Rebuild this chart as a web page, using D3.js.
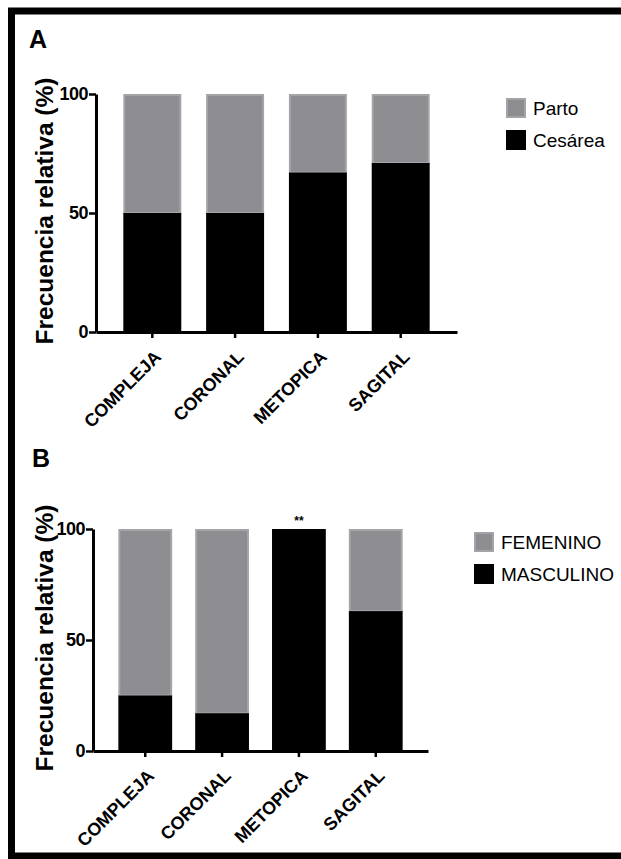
<!DOCTYPE html>
<html>
<head>
<meta charset="utf-8">
<script src="https://cdn.jsdelivr.net/npm/d3@7"></script>
<style>
  body { margin: 0; background: #fff; }
  svg { display: block; font-family: "Liberation Sans", Arial, sans-serif; }
</style>
</head>
<body>
<div id="chart"></div>
<script>
// data
const categories = ["COMPLEJA", "CORONAL", "METOPICA", "SAGITAL"];
const yTicks = [0, 50, 100];

// panel A: tipo de parto
const cesarea = [50, 50, 67, 71];
const parto = [50, 50, 33, 29];

// panel B: sexo
const masculino = [25, 17, 100, 63];
const femenino = [75, 83, 0, 37];

const width = 621, height = 859;
const gray = "#8e8d92", grayEdge = "#a4a3a7";

const svg = d3.select("#chart").append("svg")
    .attr("width", width)
    .attr("height", height);

svg.append("rect").attr("width", width).attr("height", height).attr("fill", "#fff");

// frame (open on the right side, like the source image)
svg.append("rect")
    .attr("x", 11.5).attr("y", 11)
    .attr("width", 700).attr("height", 845)
    .attr("fill", "none").attr("stroke", "#000").attr("stroke-width", 7);

function drawPanel(opts) {
    const { letter, letterPos, xRange, yRange, bottom, top, bottomName, topName, legendX, legendY, star } = opts;

    const g = svg.append("g");

    const x = d3.scaleBand().domain(categories).range(xRange)
        .paddingInner(0.3).paddingOuter(0.33);
    const y = d3.scaleLinear().domain([0, 100]).range(yRange);

    const rows = categories.map((c, i) => ({ cat: c, bottom: bottom[i], top: top[i] }));
    const stacked = d3.stack().keys(["bottom", "top"])(rows);

    // grey (upper) segments
    g.selectAll(".top")
        .data(stacked[1].filter(d => d[1] > d[0]))
        .join("rect")
        .attr("class", "top")
        .attr("x", d => x(d.data.cat) + 1)
        .attr("y", d => y(d[1]) + 1)
        .attr("width", x.bandwidth() - 2)
        .attr("height", d => y(d[0]) - y(d[1]) - 1)
        .attr("fill", gray)
        .attr("stroke", grayEdge)
        .attr("stroke-width", 2);

    // black (lower) segments
    g.selectAll(".bottom")
        .data(stacked[0])
        .join("rect")
        .attr("class", "bottom")
        .attr("x", d => x(d.data.cat))
        .attr("y", d => y(d[1]))
        .attr("width", x.bandwidth())
        .attr("height", d => y(d[0]) - y(d[1]))
        .attr("fill", "#000");

    // axes
    const yAxis = g.append("g")
        .attr("transform", `translate(${xRange[0]},0)`)
        .call(d3.axisLeft(y).tickValues(yTicks).tickSize(7).tickSizeOuter(0).tickPadding(1));
    yAxis.select(".domain").attr("stroke-width", 3);
    yAxis.selectAll(".tick line").attr("stroke-width", 2.5);
    yAxis.selectAll(".tick text")
        .attr("font-size", 18).attr("font-weight", "bold")
        .attr("font-family", "Liberation Sans, Arial, sans-serif").attr("fill", "#000")
        .attr("letter-spacing", -0.5);

    const xAxis = g.append("g")
        .attr("transform", `translate(0,${yRange[0]})`)
        .call(d3.axisBottom(x).tickSize(6).tickSizeOuter(0));
    xAxis.select(".domain").attr("stroke-width", 3);
    xAxis.selectAll(".tick line").attr("stroke-width", 2.5);
    xAxis.selectAll(".tick text")
        .attr("font-size", 18).attr("font-weight", "bold")
        .attr("font-family", "Liberation Sans, Arial, sans-serif").attr("fill", "#000")
        .attr("text-anchor", "end")
        .attr("y", 0).attr("dy", 0)
        .attr("transform", "translate(10,26) rotate(-45)");

    // y label
    g.append("text")
        .attr("transform", `translate(53,${(yRange[0] + yRange[1]) / 2 - 2}) rotate(-90)`)
        .attr("text-anchor", "middle")
        .attr("font-size", 24.5).attr("font-weight", "bold")
        .text("Frecuencia relativa (%)");

    // panel letter
    g.append("text")
        .attr("x", letterPos[0]).attr("y", letterPos[1])
        .attr("font-size", 25).attr("font-weight", "bold")
        .text(letter);

    // significance mark
    if (star) {
        g.append("text")
            .attr("x", x(star) + x.bandwidth() / 2)
            .attr("y", y(100) - 4)
            .attr("text-anchor", "middle")
            .attr("font-size", 12).attr("font-weight", "bold")
            .text("**");
    }

    // legend
    const legend = g.append("g").attr("transform", `translate(${legendX},${legendY})`);
    const items = [{ name: topName, fill: gray, stroke: grayEdge }, { name: bottomName, fill: "#000", stroke: "#000" }];
    legend.selectAll("rect")
        .data(items)
        .join("rect")
        .attr("x", 1).attr("y", (d, i) => i * 32 + 1)
        .attr("width", 18).attr("height", 18)
        .attr("fill", d => d.fill)
        .attr("stroke", d => d.stroke).attr("stroke-width", 2);
    legend.selectAll("text")
        .data(items)
        .join("text")
        .attr("x", 27).attr("y", (d, i) => i * 32 + 17)
        .attr("font-size", 19)
        .text(d => d.name);
}

drawPanel({
    letter: "A", letterPos: [29, 48],
    xRange: [96, 457], yRange: [332, 94],
    bottom: cesarea, top: parto,
    bottomName: "Cesárea", topName: "Parto",
    legendX: 506, legendY: 98
});

drawPanel({
    letter: "B", letterPos: [32, 467],
    xRange: [93, 428], yRange: [751, 529],
    bottom: masculino, top: femenino,
    bottomName: "MASCULINO", topName: "FEMENINO",
    legendX: 474, legendY: 532,
    star: "METOPICA"
});
</script>
</body>
</html>
